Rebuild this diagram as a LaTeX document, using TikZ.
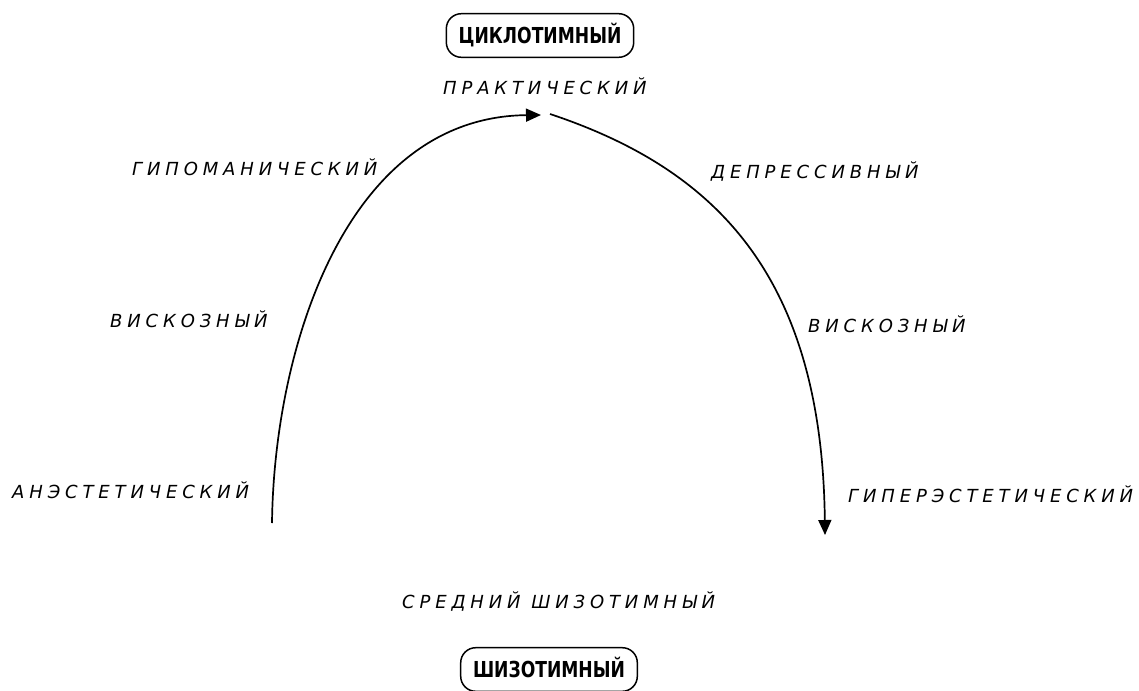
\documentclass[tikz,border=0pt]{standalone}
\usepackage{fontspec}
\setmainfont{DejaVu Sans}
\newfontfamily\lblfont[LetterSpace=27]{DejaVu Sans}
\newfontfamily\boxfont[FakeStretch=0.78]{DejaVu Sans}
\usetikzlibrary{arrows.meta}
\tikzset{
  lbl/.style={font=\lblfont\fontsize{18}{20}\selectfont\itshape, inner sep=0pt, text height=13pt, text depth=0pt, anchor=west},
  typebox/.style={draw, line width=1.5pt, rounded corners=15pt, font=\boxfont\bfseries\fontsize{22}{24}\selectfont, text height=16pt, text depth=0pt, inner xsep=12.3pt, inner ysep=13.8pt},
  curve/.style={line width=1.7pt, -{Triangle[length=15pt,width=13pt]}}
}
\begin{document}
\begin{tikzpicture}[x=1pt,y=-1pt]
\useasboundingbox (0,0) rectangle (1139,690);
\node[typebox] (cyclo) at (540,35.5) {ЦИКЛОТИМНЫЙ};
\node[typebox] (schizo) at (549,669.5) {ШИЗОТИМНЫЙ};
\node[lbl] (prakt) at (443,88) {ПРАКТИЧЕСКИЙ};
\node[lbl] (hypom) at (132,169) {ГИПОМАНИЧЕСКИЙ};
\node[lbl] (depr) at (711,171.5) {ДЕПРЕССИВНЫЙ};
\node[lbl] (viskL) at (110,321) {ВИСКОЗНЫЙ};
\node[lbl] (viskR) at (808,326) {ВИСКОЗНЫЙ};
\node[lbl] (anest) at (12,492) {АНЭСТЕТИЧЕСКИЙ};
\node[lbl] (hyper) at (848,496) {ГИПЕРЭСТЕТИЧЕСКИЙ};
\node[lbl] (sredn) at (402,602) {СРЕДНИЙ ШИЗОТИМНЫЙ};
\coordinate (lstart) at (272,523);
\coordinate (ltop) at (541,115);
\coordinate (rtop) at (550,114);
\coordinate (rend) at (825,535);
\draw[curve] (lstart) .. controls (274,350) and (345,117) .. (ltop);
\draw[curve] (rtop) .. controls (715,169) and (822,275) .. (rend);
\end{tikzpicture}
\end{document}
